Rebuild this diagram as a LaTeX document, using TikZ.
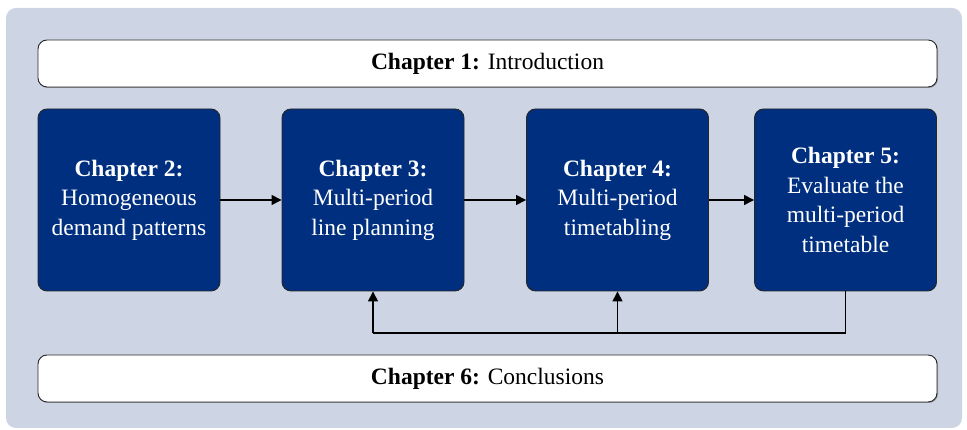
\documentclass[tikz,border=0pt]{standalone}
\usepackage{fontspec}
\setmainfont{Liberation Serif}
\usetikzlibrary{arrows.meta,shadows}
\definecolor{bgblue}{RGB}{205,213,229}
\definecolor{chblue}{RGB}{0,47,128}
\begin{document}
\begin{tikzpicture}[x=1pt,y=1pt,
  chap/.style={draw=black!85, line width=0.9pt, rounded corners=9pt, fill=chblue, text=white,
    minimum width=182pt, minimum height=182pt, align=center, inner sep=0pt,
    font=\fontsize{23.5}{29.5}\selectfont},
  wide/.style={draw=black!85, line width=0.9pt, rounded corners=9pt, fill=white,
    minimum width=899pt, minimum height=47pt, inner sep=0pt,
    font=\fontsize{23.5}{29.5}\selectfont,
    drop shadow={shadow xshift=1pt, shadow yshift=-1pt, opacity=0.5, fill=black!60}},
  conn/.style={line width=1.4pt, -{Triangle[length=10pt,width=10pt]}}]
\useasboundingbox (0,0) rectangle (967,430);
\fill[bgblue, rounded corners=10pt] (6,2) rectangle (962,422);

\node[wide] (intro) at (487.5,366.5) {\textbf{Chapter 1:} Introduction};
\node[wide] (concl) at (487.5,51.5) {\textbf{Chapter 6:} Conclusions};

\node[chap] (c2) at (129,230) {\textbf{Chapter 2:}\\Homogeneous\\demand patterns};
\node[chap] (c3) at (373,230) {\textbf{Chapter 3:}\\Multi-period\\line planning};
\node[chap] (c4) at (617.5,230) {\textbf{Chapter 4:}\\Multi-period\\timetabling};
\node[chap] (c5) at (845.5,230) {\textbf{Chapter 5:}\\Evaluate the\\multi-period\\timetable};

\draw[conn] (c2) -- (c3);
\draw[conn] (c3) -- (c4);
\draw[conn] (c4) -- (c5);

\coordinate (fb) at (845.5,97);
\coordinate (fb3) at (617.5,97);
\coordinate (fb2) at (373,97);
\draw[line width=1.4pt] (c5.south) -- (fb) -- (fb2);
\draw[conn] (fb2) -- (c3.south);
\draw[conn] (fb3) -- (c4.south);
\end{tikzpicture}
\end{document}
